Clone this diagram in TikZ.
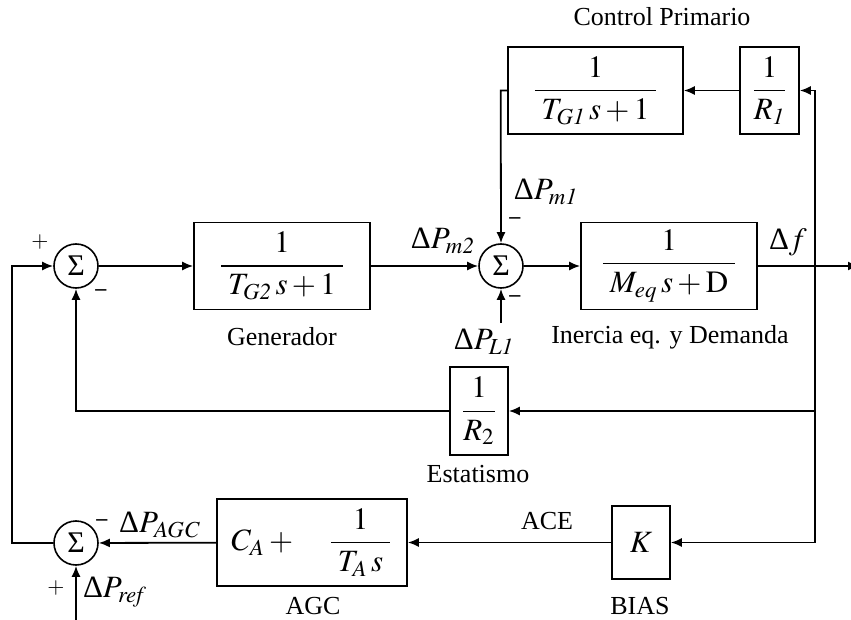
\documentclass[tikz,border=0pt]{standalone}
\usepackage{amsmath}
\usepackage{mathptmx}
\usepackage[no-math]{fontspec}
\setmainfont{Liberation Serif}
\usepackage{tikz}
\usetikzlibrary{arrows.meta}

\newcommand{\dlt}{\mbox{Δ}}

\begin{document}
\begin{tikzpicture}[x=0.5pt, y=-0.5pt, line width=0.9pt,
  >={Latex[length=5.5pt,width=4.5pt]},
  every node/.style={font=\fontsize{13}{16}\selectfont},
  blk/.style={draw, line width=0.8pt, inner sep=0pt, minimum height=43.5pt, font=\fontsize{15.5}{18}\selectfont},
  sumnode/.style={draw, circle, line width=0.8pt, inner sep=0pt, minimum size=22pt, font=\fontsize{15}{17}\selectfont},
  sig/.style={inner sep=1pt, font=\fontsize{15.5}{18}\selectfont},
  sgn/.style={inner sep=0pt, font=\fontsize{11}{13}\selectfont}]
  \useasboundingbox (0,0) rectangle (851,620);

  % summing points
  \node[sumnode] (sum1) at (76,266) {Σ};
  \node[sumnode] (sum2) at (501,266) {Σ};
  \node[sumnode] (sum3) at (76,543) {Σ};

  % blocks
  \node[blk, minimum width=88pt] (gen) at (282,266) {$\dfrac{1}{\;T_{\mathit{G2}}\,s+1\;}$};
  \node[blk, minimum width=88pt] (meq) at (669,266) {$\dfrac{1}{\;M_{\mathit{eq}}\,s+\mathrm{D}\;}$};
  \node[blk, minimum width=87.5pt] (tg1) at (595.5,90.5) {$\dfrac{1}{\;T_{\mathit{G1}}\,s+1\;}$};
  \node[blk, minimum width=29.5pt] (r1) at (769.5,90.5) {$\dfrac{1}{R_{\mathit{1}}}$};
  \node[blk, minimum width=29pt, minimum height=44pt] (r2) at (479,411) {$\dfrac{1}{R_{2}}$};
  \node[blk, minimum width=29pt, minimum height=36.5pt] (k) at (641,542.5) {$K$};
  \node[blk, minimum width=95pt] (agc) at (312,542.5) {$C_{\mathit{A}}+\quad\dfrac{1}{\;T_{\mathit{A}}\,s\;}$};

  % free ends
  \coordinate (out) at (859,266);
  \coordinate (brtop) at (815,90.5);
  \coordinate (brmid) at (815,411);
  \coordinate (brbot) at (815,542.5);
  \coordinate (lft) at (12,400);
  \coordinate (pref) at (76,620);
  \coordinate (pl1) at (501,323);

  % forward path
  \draw[->] (sum1) -- (gen);
  \draw[->] (gen) -- (sum2);
  \draw[->] (sum2) -- (meq);
  \draw[->] (meq) -- (out);

  % feedback paths
  \draw (brtop) -- (brbot);
  \draw[->] (brtop) -- (r1);
  \draw[->] (r1) -- (tg1);
  \draw[->] (tg1.west) -- ++(-6.5,0) -- (sum2.north);
  \draw[->] (brmid) -- (r2);
  \draw[->] (r2.west) -| (sum1.south);
  \draw[->] (brbot) -- (k);
  \draw[->] (k) -- (agc);
  \draw[->] (agc) -- (sum3);
  \draw[->] (sum3.west) -| (lft) |- (sum1.west);
  \draw[->] (pref) -- (sum3.south);
  \draw[->] (pl1) -- (sum2.south);

  % signs
  \node[sgn] (s1p) at (40,242) {$+$};
  \node[sgn] (s1m) at (101,293) {\textbf{--}};
  \node[sgn] (s2t) at (515,221) {\textbf{--}};
  \node[sgn] (s2b) at (515,299) {\textbf{--}};
  \node[sgn] (s3m) at (102,523) {\textbf{--}};
  \node[sgn] (s3p) at (56,588) {$+$};

  % signal labels
  \node[sig] (pm2) at (443,241) {$\dlt P_{\mathit{m2}}$};
  \node[sig] (pm1) at (546,192) {$\dlt P_{\mathit{m1}}$};
  \node[sig] (plone) at (484,342) {$\dlt P_{\mathit{L1}}$};
  \node[sig] (df) at (788,242) {$\dlt f$};
  \node[sig] (pagc) at (160,525) {$\dlt P_{\mathit{AGC}}$};
  \node[sig] (pr) at (115,592) {$\dlt P_{\mathit{ref}}$};
  \node (ace) at (547,521) {ACE};

  % block names
  \node (ncp) at (662,17) {Control Primario};
  \node (ngen) at (282,337) {Generador};
  \node (nmeq) at (670,337) {Inercia eq. y Demanda};
  \node (nest) at (478,474) {Estatismo};
  \node (nagc) at (313,606) {AGC};
  \node (nbias) at (640,606) {BIAS};
\end{tikzpicture}
\end{document}
